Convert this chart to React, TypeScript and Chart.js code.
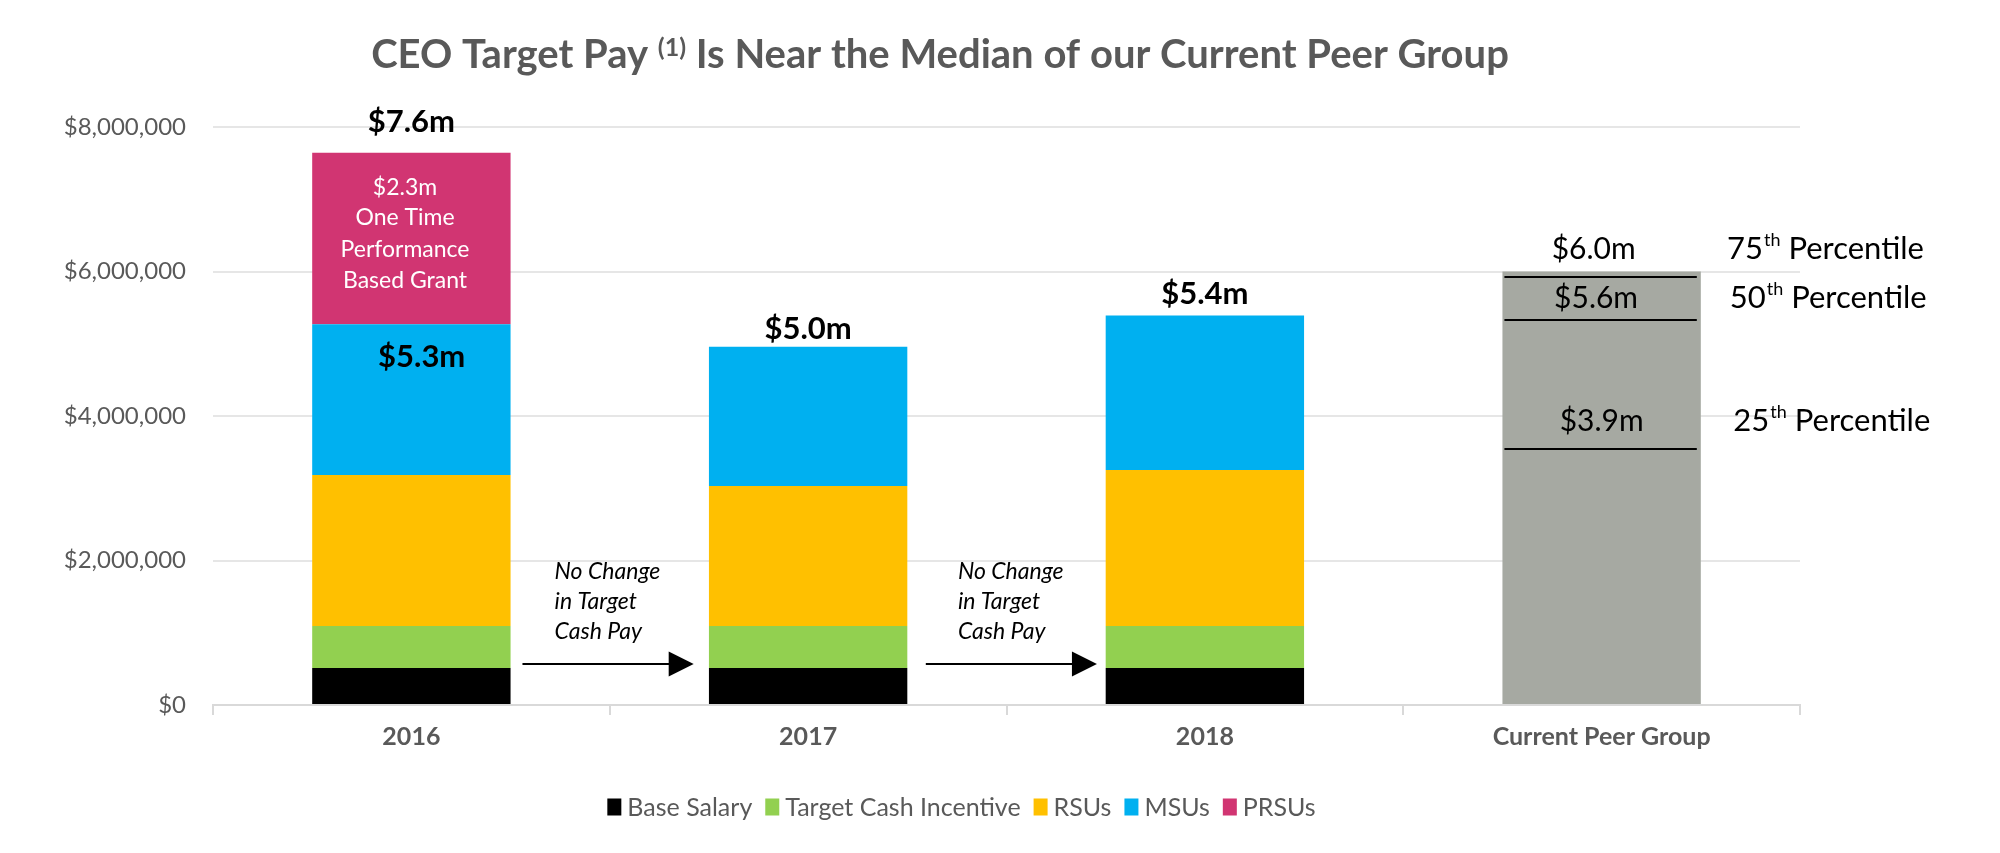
import React, { useEffect, useRef } from 'react';
import { Chart, registerables } from 'chart.js';

Chart.register(...registerables);

// ---------- data ----------
const categories = ['2016', '2017', '2018', 'Current Peer Group'];
const seriesNames = ['Base Salary', 'Target Cash Incentive', 'RSUs', 'MSUs', 'PRSUs'];
const baseSalary = [512000, 512000, 512000, null];
const targetCashIncentive = [582000, 582000, 582000, null];
const rsus = [2091000, 1936000, 2160000, null];
const msus = [2085000, 1930000, 2136000, null];
const prsus = [2374000, null, null, null];
const peerGroupName = 'Current Peer Group';
const peerGroup = [null, null, null, 6000000];
const peerPercentileLines = [5920000, 5330000, 3540000];
const yTicks = [0, 2000000, 4000000, 6000000, 8000000];

const totalLabels = ['$7.6m', '$5.0m', '$5.4m'];
const peerLabels = ['$6.0m', '$5.6m', '$3.9m'];
const percentileNumbers = ['75', '50', '25'];
const prsuNote = ['$2.3m', 'One Time', 'Performance', 'Based Grant'];
const subtotalLabel = '$5.3m';
const arrowNote = ['No Change', 'in Target', 'Cash Pay'];

// ---------- annotation anchors (in scale units) ----------
const totalLabelAt = [
  { x: 0, y: 8070000 },
  { x: 1, y: 5200000 },
  { x: 2, y: 5690000 },
];
const peerLabelAt = [
  { x: 2.98, y: 6310000 },
  { x: 2.986, y: 5630000 },
  { x: 3.0, y: 3930000 },
];
const percentileAt = [
  { x: 3.316, y: 6310000 },
  { x: 3.323, y: 5630000 },
  { x: 3.332, y: 3930000 },
];
const prsuNoteAt = { x: -0.016, y: [7160000, 6740000, 6310000, 5870000] };
const subtotalAt = { x: 0.026, y: 4820000 };
const arrowsAt = [
  { start: 0.28, tip: 0.7116, text: 0.361 },
  { start: 1.2966, tip: 1.728, text: 1.3775 },
];
const arrowLineY = 563000;
const arrowTextY = [1845000, 1431000, 1020000];

const FONT = 'Lato';
const GRAY_TEXT = '#595959';
const COLORS = ['#000000', '#92D050', '#FFC000', '#00B0F0', '#D13572'];
const PEER_COLOR = '#A6A9A2';

const annotationPlugin = {
  id: 'ceoAnnotations',
  afterDatasetsDraw(chart: any) {
    const { ctx } = chart;
    const x = chart.scales.x;
    const y = chart.scales.y;
    ctx.save();

    // peer group percentile lines
    const peerMeta = chart.getDatasetMeta(5);
    const bar = peerMeta.data[3];
    if (bar) {
      const left = bar.x - bar.width / 2 + 2;
      const right = bar.x + bar.width / 2 - 4;
      ctx.strokeStyle = '#000000';
      ctx.lineWidth = 2;
      peerPercentileLines.forEach((v) => {
        const py = Math.round(y.getPixelForValue(v));
        ctx.beginPath();
        ctx.moveTo(left, py);
        ctx.lineTo(right, py);
        ctx.stroke();
      });
    }

    ctx.textAlign = 'center';
    ctx.textBaseline = 'middle';

    // totals
    ctx.fillStyle = '#000000';
    ctx.font = `bold 31px ${FONT}`;
    totalLabels.forEach((t, i) => {
      ctx.fillText(t, x.getPixelForValue(totalLabelAt[i].x), y.getPixelForValue(totalLabelAt[i].y));
    });
    ctx.fillText(subtotalLabel, x.getPixelForValue(subtotalAt.x), y.getPixelForValue(subtotalAt.y));

    // PRSU note (white)
    ctx.fillStyle = '#FFFFFF';
    ctx.font = `23px ${FONT}`;
    prsuNote.forEach((t, i) => {
      ctx.fillText(t, x.getPixelForValue(prsuNoteAt.x), y.getPixelForValue(prsuNoteAt.y[i]));
    });

    // peer labels
    ctx.fillStyle = '#000000';
    ctx.font = `30px ${FONT}`;
    peerLabels.forEach((t, i) => {
      ctx.fillText(t, x.getPixelForValue(peerLabelAt[i].x), y.getPixelForValue(peerLabelAt[i].y));
    });

    // percentile labels with superscript
    ctx.textAlign = 'left';
    percentileNumbers.forEach((n, i) => {
      let px = x.getPixelForValue(percentileAt[i].x);
      const py = y.getPixelForValue(percentileAt[i].y);
      ctx.font = `31px ${FONT}`;
      ctx.fillText(n, px, py);
      px += ctx.measureText(n).width + 1;
      ctx.font = `18px ${FONT}`;
      ctx.fillText('th', px, py - 9);
      px += ctx.measureText('th').width;
      ctx.font = `31px ${FONT}`;
      ctx.fillText(' Percentile', px, py);
    });

    // arrows + notes
    ctx.font = `italic 23px ${FONT}`;
    ctx.fillStyle = '#000000';
    ctx.strokeStyle = '#000000';
    ctx.lineWidth = 2;
    arrowsAt.forEach((a) => {
      const tx = x.getPixelForValue(a.text);
      arrowNote.forEach((t, i) => ctx.fillText(t, tx, y.getPixelForValue(arrowTextY[i])));
      const ay = Math.round(y.getPixelForValue(arrowLineY));
      const xs = x.getPixelForValue(a.start);
      const xt = x.getPixelForValue(a.tip);
      ctx.beginPath();
      ctx.moveTo(xs, ay);
      ctx.lineTo(xt - 20, ay);
      ctx.stroke();
      ctx.beginPath();
      ctx.moveTo(xt, ay);
      ctx.lineTo(xt - 25, ay - 12.5);
      ctx.lineTo(xt - 25, ay + 12.5);
      ctx.closePath();
      ctx.fill();
    });

    ctx.restore();
  },
  afterDraw(chart: any) {
    const { ctx } = chart;
    ctx.save();

    // title with superscript
    ctx.fillStyle = GRAY_TEXT;
    ctx.textBaseline = 'alphabetic';
    ctx.textAlign = 'left';
    const parts = [
      { t: 'CEO Target Pay ', font: `bold 40px ${FONT}`, dy: 0 },
      { t: '(1)', font: `bold 25px ${FONT}`, dy: -12 },
      { t: ' Is Near the Median of our Current Peer Group', font: `bold 40px ${FONT}`, dy: 0 },
    ];
    let total = 0;
    parts.forEach((p) => {
      ctx.font = p.font;
      total += ctx.measureText(p.t).width;
    });
    let px = 932 - total / 2;
    const base = 60;
    parts.forEach((p) => {
      ctx.font = p.font;
      ctx.fillText(p.t, px, base + p.dy);
      px += ctx.measureText(p.t).width;
    });

    // legend (series boxes + names)
    const ds = chart.data.datasets.slice(0, seriesNames.length);
    ctx.font = `25px ${FONT}`;
    ctx.textBaseline = 'middle';
    const boxW = 14;
    const boxH = 17;
    const gapText = 6;
    const gapItem = 13;
    const widths = ds.map((d: any) => boxW + gapText + ctx.measureText(d.label).width);
    const totalW = widths.reduce((a: number, b: number) => a + b, 0) + gapItem * (ds.length - 1);
    let lx = 953.5 - totalW / 2;
    const ly = 799;
    ds.forEach((d: any, i: number) => {
      ctx.fillStyle = d.backgroundColor;
      ctx.fillRect(lx, ly - boxH / 2, boxW, boxH);
      ctx.fillStyle = GRAY_TEXT;
      ctx.fillText(d.label, lx + boxW + gapText, ly + 1);
      lx += widths[i] + gapItem;
    });

    ctx.restore();
  },
};

export default function App() {
  const canvasRef = useRef<HTMLCanvasElement | null>(null);

  useEffect(() => {
    if (!canvasRef.current) return;
    const seriesData = [baseSalary, targetCashIncentive, rsus, msus, prsus];
    const chart = new Chart(canvasRef.current, {
      type: 'bar',
      data: {
        labels: categories,
        datasets: [
          ...seriesNames.map((name, i) => ({
            label: name,
            data: seriesData[i],
            backgroundColor: COLORS[i],
          })),
          { label: peerGroupName, data: peerGroup, backgroundColor: PEER_COLOR },
        ] as any,
      },
      options: {
        animation: false,
        responsive: true,
        maintainAspectRatio: false,
        datasets: {
          bar: { categoryPercentage: 1, barPercentage: 0.5, borderWidth: 0 },
        } as any,
        layout: { padding: { top: 119, left: 0, right: 192, bottom: 63 } },
        scales: {
          x: {
            stacked: true,
            grid: {
              display: true,
              drawOnChartArea: false,
              drawTicks: true,
              tickLength: 10,
              color: '#D9D9D9',
              lineWidth: 2,
              offset: true,
            },
            border: { display: true, color: '#D9D9D9', width: 2 },
            ticks: {
              font: { family: FONT, size: 25, weight: 'bold' },
              color: GRAY_TEXT,
              padding: 7,
              maxRotation: 0,
              autoSkip: false,
            },
            afterFit: (s: any) => {
              s.height = 77;
            },
          },
          y: {
            stacked: true,
            min: 0,
            max: 8000000,
            afterBuildTicks: (s: any) => {
              s.ticks = yTicks.map((v) => ({ value: v }));
            },
            ticks: {
              font: { family: FONT, size: 24 },
              color: GRAY_TEXT,
              padding: 27,
              callback: (v: any) => '$' + Number(v).toLocaleString('en-US'),
            },
            grid: { color: '#E6E6E6', lineWidth: 2, drawTicks: false },
            border: { display: false },
            afterFit: (s: any) => {
              s.width = 205;
            },
          },
        } as any,
        plugins: {
          legend: { display: false },
          tooltip: { enabled: false },
          title: { display: false },
        },
      },
      plugins: [annotationPlugin],
    });
    const fontsReady = (document as any).fonts?.ready;
    if (fontsReady) fontsReady.then(() => chart.update());
    return () => chart.destroy();
  }, []);

  return (
    <div style={{ position: 'relative', width: '1984px', height: '837px' }}>
      <canvas ref={canvasRef} />
    </div>
  );
}
